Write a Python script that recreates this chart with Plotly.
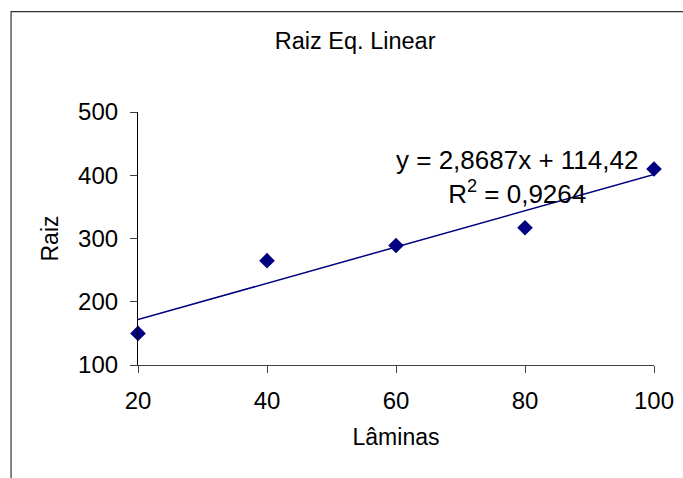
import plotly.graph_objects as go

# dados
laminas = [20, 40, 60, 80, 100]
raiz = [150, 265, 289, 317, 410]

# linha de tendência (da equação mostrada)
slope = 2.8687
intercept = 114.42
r2_label = "0,9264"

x_ticks = [20, 40, 60, 80, 100]
y_ticks = [100, 200, 300, 400, 500]

FONT = "Liberation Sans, Arial, sans-serif"
NAVY = "#000080"

trend_x = [laminas[0], laminas[-1]]
trend_y = [slope * v + intercept for v in trend_x]

fig = go.Figure()

fig.add_trace(
    go.Scatter(
        x=trend_x,
        y=trend_y,
        mode="lines",
        line=dict(color=NAVY, width=1.5),
        showlegend=False,
        hoverinfo="skip",
        cliponaxis=False,
    )
)

fig.add_trace(
    go.Scatter(
        x=laminas,
        y=raiz,
        mode="markers",
        marker=dict(symbol="diamond", size=12, color=NAVY),
        showlegend=False,
        cliponaxis=False,
    )
)

eq_text = "y = " + str(slope).replace(".", ",") + "x + " + str(intercept).replace(".", ",")

fig.add_annotation(
    x=0.735, y=0.745, xref="paper", yref="paper",
    xanchor="center", yanchor="middle",
    text=eq_text + "<br>R<sup>2</sup> = " + r2_label,
    showarrow=False, align="center",
    font=dict(family=FONT, size=26, color="black"),
)

# moldura externa do gráfico
fig.add_shape(
    type="rect", xref="paper", yref="paper",
    x0=-0.246, x1=1.2, y0=-0.5, y1=1.397,
    line=dict(color="#333333", width=1.2),
)

fig.update_xaxes(
    range=[20, 100],
    tickvals=x_ticks,
    automargin=False,
    showline=True, linecolor="#404040", linewidth=1.2,
    ticks="outside", ticklen=7, tickcolor="#404040",
    showgrid=False, zeroline=False,
    tickfont=dict(family=FONT, size=24, color="black"),
    ticklabelstandoff=7,
    title=dict(text="Lâminas", font=dict(family=FONT, size=23, color="black"), standoff=15),
)

fig.update_yaxes(
    range=[100, 500],
    tickvals=y_ticks,
    automargin=False,
    showline=True, linecolor="black", linewidth=1.2,
    ticks="outside", ticklen=7, tickcolor="#404040",
    showgrid=False, zeroline=False,
    tickfont=dict(family=FONT, size=24, color="black"),
    ticklabelstandoff=7,
    title=dict(text="Raiz", font=dict(family=FONT, size=23, color="black"), standoff=13),
)

fig.update_layout(
    width=683,
    height=478,
    margin=dict(l=138, r=29, t=112, b=113, autoexpand=False),
    paper_bgcolor="white",
    plot_bgcolor="white",
    title=dict(
        text="Raiz Eq. Linear",
        x=0.52, xanchor="center",
        y=0.914, yanchor="middle",
        font=dict(family=FONT, size=23.5, color="black"),
    ),
)

fig.write_html(
    "out.html",
    config={"displayModeBar": False},
    post_script="document.body.style.margin='0';",
)
